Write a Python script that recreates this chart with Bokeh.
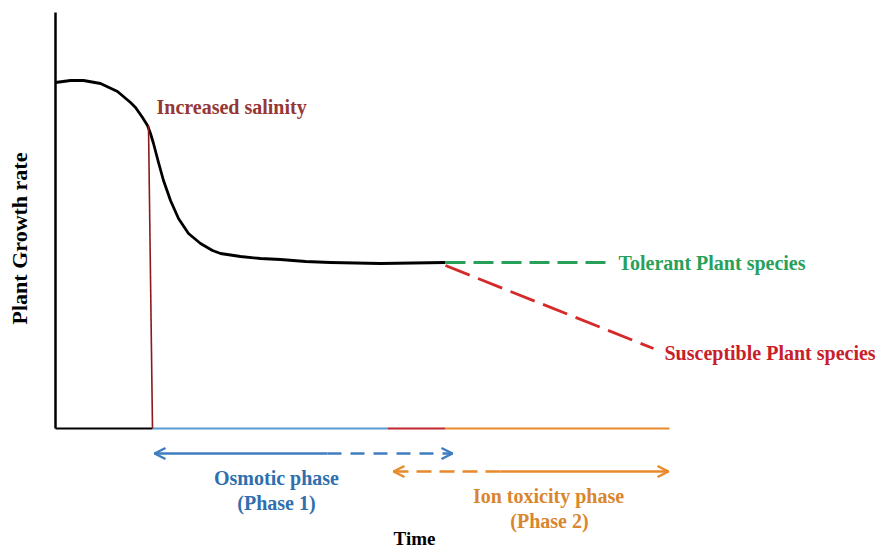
from bokeh.plotting import figure
from bokeh.models import Range1d, Label, Arrow, OpenHead
from bokeh.embed import file_html
from bokeh.resources import INLINE
import math

# ---- data (time units, growth-rate units) ----
curve_time = [0, 15, 28, 45, 62, 75, 80, 87, 92, 95, 98, 103, 108, 115, 123, 133,
              145, 157, 165, 185, 205, 225, 250, 275, 325, 390]
curve_growth = [346, 348, 348, 345, 337, 326, 321, 311, 303, 295, 285, 266, 248, 228, 210, 195,
                185, 178, 175, 172, 170, 169, 167, 166, 165, 166]

y_axis_t = [0, 0]
y_axis_g = [0, 416]

salinity_t = [93, 97]
salinity_g = [303, 0]

tolerant_t = [390, 553]
tolerant_g = [166, 166]
susceptible_t = [390, 598]
susceptible_g = [163, 80]

# baseline phases along time axis
base_starts = [0, 97, 332, 390]
base_ends = [97, 332, 390, 614]
base_colors = ["#000000", "#5B9BD5", "#C0262C", "#E88B2E"]

# phase arrows
osm_solid = [99, 272]
osm_dash = [272, 397]
osm_level = -25
ion_dash = [338, 445]
ion_solid = [445, 613]
ion_level = -43

FONT = "Liberation Serif"

p = figure(width=880, height=548, output_backend="svg", toolbar_location=None,
           x_range=Range1d(-55, 825), y_range=Range1d(-120, 428), min_border=0)
p.axis.visible = False
p.grid.visible = False
p.outline_line_color = None
p.background_fill_color = "white"
p.border_fill_color = "white"

# y axis line
p.line(y_axis_t, y_axis_g, line_color="black", line_width=2.5)
# baseline segments
p.segment(x0=base_starts, y0=[0] * 4, x1=base_ends, y1=[0] * 4,
          line_color=base_colors, line_width=2)
# growth curve
p.line(curve_time, curve_growth, line_color="black", line_width=2.8, line_join="round")
# increased salinity marker
p.line(salinity_t, salinity_g, line_color="#8B1A1A", line_width=1.6)
# tolerant / susceptible
p.line(tolerant_t, tolerant_g, line_color="#27A05A", line_width=2.8, line_dash="20 8")
p.line(susceptible_t, susceptible_g, line_color="#D42A2A", line_width=2.8, line_dash="26 9")

# osmotic arrow
blue = "#3F7DC0"
p.line(osm_solid, [osm_level] * 2, line_color=blue, line_width=2.5)
p.line(osm_dash, [osm_level] * 2, line_color=blue, line_width=2.5, line_dash="14 9")
p.add_layout(Arrow(end=OpenHead(size=11, line_color=blue, line_width=2.5),
                   x_start=osm_solid[0] + 5, y_start=osm_level, x_end=osm_solid[0], y_end=osm_level,
                   line_alpha=0))
p.add_layout(Arrow(end=OpenHead(size=11, line_color=blue, line_width=2.5),
                   x_start=osm_dash[1] - 5, y_start=osm_level, x_end=osm_dash[1], y_end=osm_level,
                   line_alpha=0))

# ion toxicity arrow
orange = "#E8892B"
p.line(ion_dash, [ion_level] * 2, line_color=orange, line_width=2.5, line_dash="15 8")
p.line(ion_solid, [ion_level] * 2, line_color=orange, line_width=2.5)
p.add_layout(Arrow(end=OpenHead(size=11, line_color=orange, line_width=2.5),
                   x_start=ion_dash[0] + 5, y_start=ion_level, x_end=ion_dash[0], y_end=ion_level,
                   line_alpha=0))
p.add_layout(Arrow(end=OpenHead(size=11, line_color=orange, line_width=2.5),
                   x_start=ion_solid[1] - 5, y_start=ion_level, x_end=ion_solid[1], y_end=ion_level,
                   line_alpha=0))

def lab(x, y, text, color, align="left", size="20px", angle=0):
    p.add_layout(Label(x=x, y=y, text=text, text_color=color, text_font=FONT,
                       text_font_style="bold", text_font_size=size, text_align=align,
                       text_baseline="middle", angle=angle))

lab(101, 322, "Increased salinity", "#953735")
lab(563, 166, "Tolerant Plant species", "#27A05A")
lab(609, 76, "Susceptible Plant species", "#C8202A")
lab(221, -49, "Osmotic phase", "#2E6FAE", align="center")
lab(221, -74, "(Phase 1)", "#2E6FAE", align="center")
lab(493, -67, "Ion toxicity phase", "#D9862E", align="center")
lab(494, -92, "(Phase 2)", "#D9862E", align="center")
lab(359, -110, "Time", "black", align="center", size="19px")
lab(-36, 190, "Plant Growth rate", "black", align="center", size="22px", angle=math.pi / 2)

open("out.html", "w").write(file_html(p, INLINE))
